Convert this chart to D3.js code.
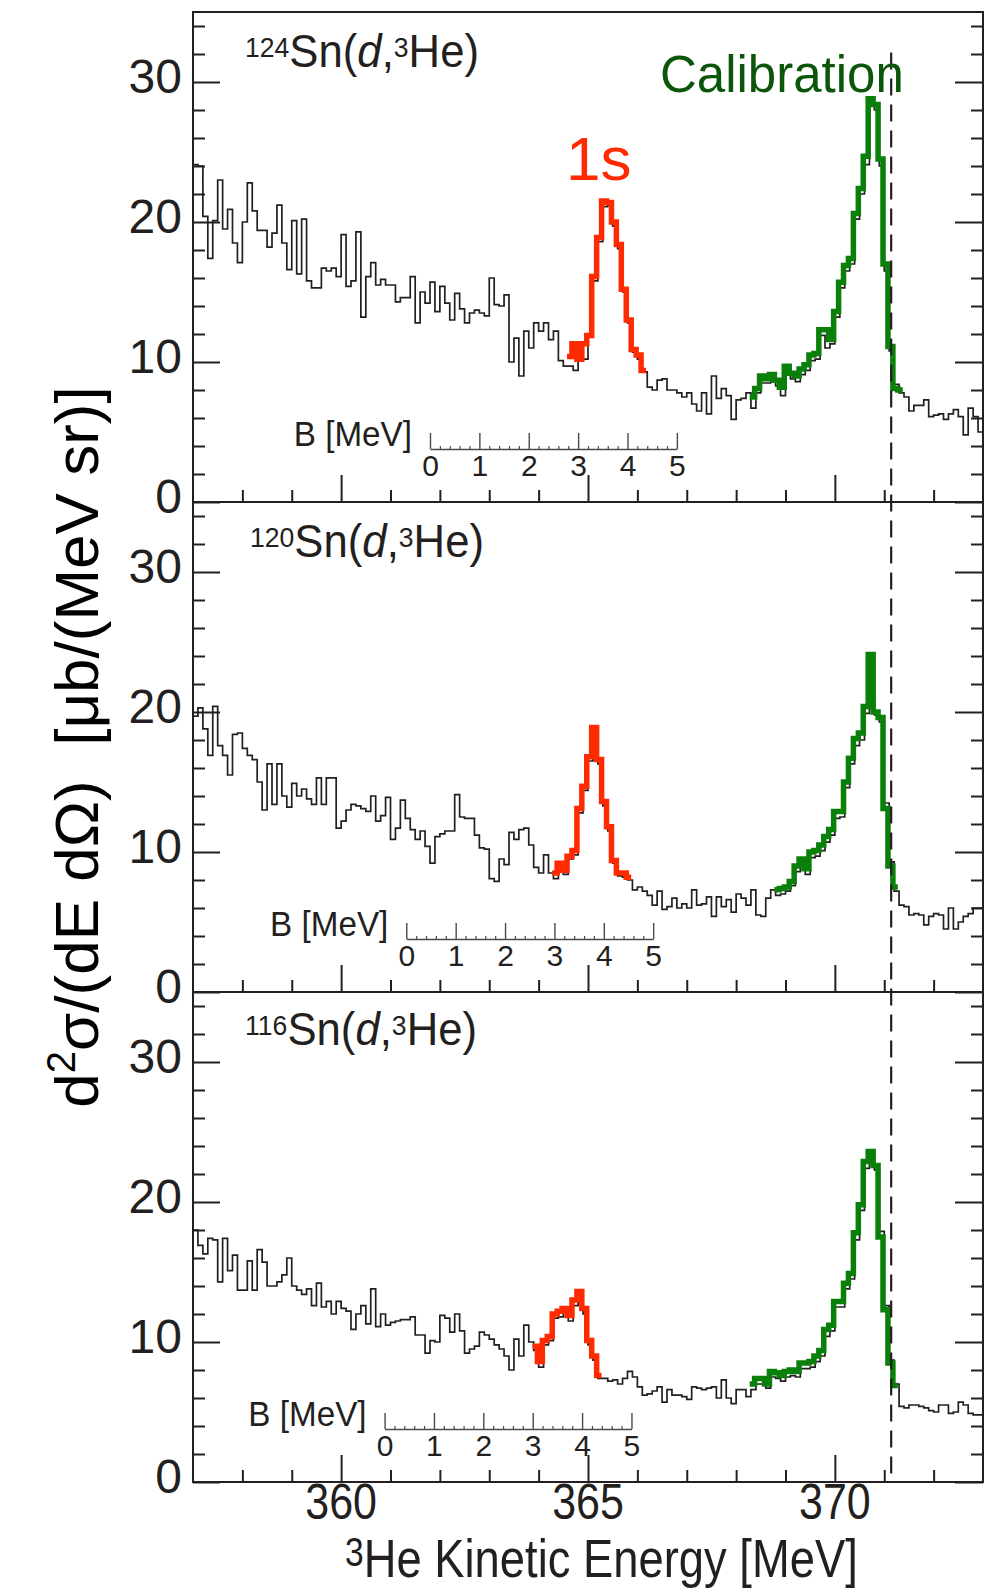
<!DOCTYPE html>
<html>
<head>
<meta charset="utf-8">
<script src="https://cdn.jsdelivr.net/npm/d3@7"></script>
<style>
  body { margin: 0; background: #fff; }
  svg { display: block; font-family: "Liberation Sans", Arial, sans-serif; }
</style>
</head>
<body>
<div id="chart"></div>
<script>
// --- Data (0.1 MeV bins starting at 357.0 MeV) ---
const binStart = 357.0;
const binWidth = 0.1;

const targets = ["124", "120", "116"];

const black124 = [
  24.1, 24.0, 20.4, 17.4, 20.1, 23.0, 19.5, 20.9, 18.5, 17.1,
  20.0, 22.8, 20.8, 19.4, 19.4, 18.2, 19.2, 21.2, 18.5, 16.6,
  20.1, 16.3, 20.2, 15.8, 15.3, 15.3, 16.7, 16.5, 16.7, 16.1,
  19.1, 15.4, 15.8, 19.3, 13.2, 16.1, 17.1, 15.5, 15.9, 15.5,
  15.5, 14.3, 14.6, 14.6, 16.1, 12.8, 15.0, 14.2, 15.7, 13.6,
  15.4, 14.2, 13.0, 14.9, 13.8, 12.8, 13.5, 13.7, 13.5, 13.3,
  16.0, 14.1, 14.0, 14.8, 10.0, 11.7, 9.0, 12.2, 11.0, 12.8,
  12.2, 12.8, 11.6, 12.2, 10.1, 9.7,
  9.7, 9.4, 11.0, 10.2, 11.9, 15.8, 18.6, 21.1, 21.2, 19.7, 18.1, 15.0, 12.8, 10.7, 10.2, 9.3,
  8.2, 8.0, 8.7, 8.8, 8.0, 8.0, 7.8, 7.5, 7.8, 7.0, 6.5, 7.8, 6.3, 9.0, 7.4, 8.1, 7.6, 5.9, 7.3, 7.4, 7.8,
  6.7, 7.8, 8.5, 8.5, 8.7, 8.3, 7.6, 9.3, 8.8, 8.6, 9.1, 9.4, 10.1, 10.2, 11.9, 11.0, 11.3, 13.2,
  15.3, 16.5, 17.0, 20.2, 22.0, 24.1, 28.3, 28.0, 24.0, 16.5, 10.8, 8.4, 7.8,
  7.5, 6.5, 6.9, 6.9, 7.3, 6.1, 6.2, 6.3, 5.9, 6.3, 6.6, 6.1, 4.8, 6.7, 6.1, 5.0
];
const red124Start = 76;
const red124 = [10.4, 11.3, 10.2, 11.3, 11.9, 16.1, 18.9, 21.5, 21.4, 20.0, 18.4, 15.2, 13.0, 10.9, 10.5, 9.4];
const green124Start = 113;
const green124 = [
  7.5, 8.1, 9.0, 8.8, 9.1, 8.7, 8.2, 9.7, 9.2, 9.0, 9.5, 9.8, 10.5, 10.6, 12.3, 12.3, 11.6,
  13.6, 15.7, 16.9, 17.4, 20.6, 22.4, 24.7, 28.8, 28.4, 24.5, 17.0, 11.1, 8.1, 8.0
];

const black120 = [
  19.7, 20.3, 18.8, 16.9, 20.4, 17.6, 16.9, 15.5, 18.4, 18.5,
  17.4, 16.9, 16.6, 15.0, 13.0, 16.3, 13.4, 16.3, 14.0, 13.2,
  14.9, 14.0, 14.5, 13.8, 13.4, 15.3, 13.4, 15.3, 15.3, 11.7,
  12.2, 13.0, 13.4, 13.3, 13.1, 12.9, 14.0, 12.2, 12.6, 13.9,
  10.9, 11.7, 13.7, 12.4, 11.6, 10.9, 11.5, 10.4, 9.2, 11.1,
  11.3, 11.5, 11.5, 14.1, 12.5, 12.4, 12.4, 11.2, 10.3, 10.2,
  8.1, 7.9, 9.5, 9.1, 11.4, 10.9, 11.6, 11.7, 10.5, 8.9,
  8.5, 9.8, 8.5,
  8.1, 9.0, 8.4, 9.5, 9.8, 12.8, 14.4, 16.5, 18.4, 16.3, 13.3, 11.5, 9.2, 8.3, 8.2, 8.0,
  7.3, 7.5, 7.2, 6.9, 6.2, 7.2, 5.9, 6.1, 6.7, 6.0, 6.3, 6.0, 7.3, 6.2, 6.3, 6.8, 5.4, 6.8,
  6.1, 6.6, 5.7, 7.0, 6.7, 6.2, 7.3, 5.5, 5.4, 6.7, 7.3,
  6.9, 7.0, 7.2, 7.6, 8.6, 9.1, 8.4, 9.6, 9.7, 10.1, 10.7, 11.2, 12.4, 12.5, 14.6, 16.3,
  17.6, 18.0, 19.9, 23.5, 19.8, 19.3, 13.5, 9.3, 7.2,
  6.2, 6.1, 5.5, 5.6, 5.5, 4.8, 5.4, 5.6, 5.5, 4.5, 6.0, 4.5, 5.0, 5.4, 5.6, 6.0, 6.0
];
const red120Start = 73;
const red120 = [8.5, 9.2, 8.7, 9.7, 10.1, 13.1, 14.7, 16.8, 18.9, 16.6, 13.6, 11.8, 9.4, 8.5, 8.5, 8.2];
const green120Start = 118;
const green120 = [
  7.3, 7.4, 7.5, 7.9, 9.0, 9.5, 8.8, 10.0, 10.1, 10.5, 11.1, 11.6, 12.9, 12.9,
  15.0, 16.7, 18.1, 18.5, 20.4, 24.1, 20.0, 19.6, 13.1, 9.0, 7.5
];

const black116 = [
  18.0, 16.9, 16.3, 17.4, 17.3, 14.3, 17.4, 15.1, 16.2, 13.7,
  13.7, 15.8, 13.7, 16.6, 15.7, 14.0, 14.0, 14.3, 14.8, 16.0,
  14.0, 13.7, 13.4, 13.8, 12.6, 14.2, 12.5, 12.9, 12.0, 12.9,
  12.4, 12.2, 10.9, 12.0, 12.6, 11.3, 13.8, 11.1, 12.0, 11.2,
  11.4, 11.5, 11.6, 11.6, 11.8, 10.5, 10.5, 9.2, 10.1, 10.0,
  11.9, 11.7, 10.7, 12.0, 10.8, 9.2, 9.5, 9.7, 10.7, 10.5,
  10.2, 9.8, 9.5, 9.0, 8.0, 10.2, 9.0, 11.2, 10.0,
  9.4, 8.2, 9.8, 10.1, 11.7, 11.8, 12.1, 11.5, 12.6, 13.3, 12.0, 9.8, 8.7, 7.4,
  7.4, 7.2, 7.3, 7.0, 7.4, 7.9, 7.5, 6.8, 6.2, 6.3, 6.5, 6.8, 5.7, 6.6, 6.2,
  6.2, 6.1, 5.9, 6.8, 6.7, 6.6, 6.7, 6.8, 6.0, 7.3, 6.0, 5.6, 6.6, 6.6, 6.1,
  6.6, 7.0, 7.0, 6.7, 7.5, 7.4, 7.2, 7.5, 7.6, 7.5, 8.1, 8.1, 8.2, 8.6, 9.0,
  10.4, 10.8, 12.5, 12.5, 13.8, 14.5, 17.3, 19.4, 22.4, 23.1, 22.3, 17.9, 12.6, 8.7, 7.0,
  5.4, 5.3, 5.5, 5.5, 5.4, 5.3, 5.1, 5.0, 5.5, 5.5, 4.9, 5.0, 5.7, 5.5, 4.9, 4.8, 4.8
];
const red116Start = 69;
const red116 = [9.7, 8.6, 10.1, 10.4, 12.0, 12.2, 12.4, 11.9, 13.0, 13.6, 12.4, 10.1, 9.0, 7.6];
const green116Start = 113;
const green116 = [
  7.0, 7.4, 7.4, 7.0, 7.9, 7.8, 7.6, 7.9, 8.0, 7.9, 8.5, 8.5, 8.6, 9.0, 9.4,
  10.9, 11.2, 12.9, 12.9, 14.2, 14.9, 17.8, 19.8, 22.9, 23.6, 22.6, 17.5, 12.3, 8.5, 6.9
];

// B = 0 of each inset binding-energy axis, in 3He kinetic energy [MeV]
const bZero = [361.80, 361.32, 360.88];
const calibEnergy = 371.14;      // dashed reference line
const calibLineTop = 32.1;       // top of dashed line, in top-panel units
const colorShift = -0.025;       // colored histograms sit slightly left of the black one

const yMajor = [0, 10, 20, 30];
const yMinor = d3.range(2, 35, 2).filter(v => v % 10 !== 0);
const xMajor = [360, 365, 370];
const xMinor = d3.range(358, 373).filter(v => v % 5 !== 0);
const bMajor = [0, 1, 2, 3, 4, 5];

const panels = [
  { target: targets[0], black: black124, red: red124, redStart: red124Start, green: green124, greenStart: green124Start },
  { target: targets[1], black: black120, red: red120, redStart: red120Start, green: green120, greenStart: green120Start },
  { target: targets[2], black: black116, red: red116, redStart: red116Start, green: green116, greenStart: green116Start }
];

// --- Layout ---
const width = 998, height = 1592;
const plotLeft = 193, plotRight = 983, plotTop = 12, panelH = 490;
const ink = "#231f20";
const redColor = "#ff2a00";
const greenColor = "#0a800a";
const greenText = "#0b560b";

const svg = d3.select("#chart").append("svg")
  .attr("width", width)
  .attr("height", height);

const x = d3.scaleLinear().domain([357, 373]).range([plotLeft, plotRight]);

function stepPoints(values, start, shift) {
  const pts = values.map((v, k) => [binStart + (start + k) * binWidth + shift, v]);
  pts.push([binStart + (start + values.length) * binWidth + shift, values[values.length - 1]]);
  return pts;
}

function styleAxis(sel, w) {
  sel.attr("color", ink);
  sel.select(".domain").remove();
  sel.selectAll(".tick line").attr("stroke-width", w);
}

let topY = null;

panels.forEach((p, i) => {
  const top = plotTop + i * panelH;
  const y = d3.scaleLinear().domain([0, 35]).range([top + panelH, top]);
  if (i === 0) topY = y;
  const g = svg.append("g");

  const line = d3.line().x(d => x(d[0])).y(d => y(d[1])).curve(d3.curveStepAfter);

  // --- Y ticks (left with labels, right mirrored) ---
  g.append("g").attr("transform", `translate(${plotLeft},0)`)
    .call(d3.axisLeft(y).tickValues(yMajor).tickSize(-27).tickPadding(11).tickFormat(d3.format("d")))
    .call(a => styleAxis(a, 2))
    .call(a => a.selectAll("text")
      .attr("font-size", 48)
      .attr("font-family", "Liberation Sans, Arial, sans-serif")
      .attr("dy", "0.22em")
      .attr("fill", ink));
  g.append("g").attr("transform", `translate(${plotLeft},0)`)
    .call(d3.axisLeft(y).tickValues(yMinor).tickSize(-12).tickFormat(""))
    .call(a => styleAxis(a, 2));
  g.append("g").attr("transform", `translate(${plotRight},0)`)
    .call(d3.axisRight(y).tickValues(yMajor).tickSize(-28).tickFormat(""))
    .call(a => styleAxis(a, 2));
  g.append("g").attr("transform", `translate(${plotRight},0)`)
    .call(d3.axisRight(y).tickValues(yMinor).tickSize(-12).tickFormat(""))
    .call(a => styleAxis(a, 2));

  // --- X ticks along the bottom of every panel ---
  g.append("g").attr("transform", `translate(0,${top + panelH})`)
    .call(d3.axisBottom(x).tickValues(xMajor).tickSize(-27).tickFormat(""))
    .call(a => styleAxis(a, 2));
  g.append("g").attr("transform", `translate(0,${top + panelH})`)
    .call(d3.axisBottom(x).tickValues(xMinor).tickSize(-12).tickFormat(""))
    .call(a => styleAxis(a, 2));

  // --- Histograms ---
  g.append("path")
    .attr("d", line(stepPoints(p.black, 0, 0)))
    .attr("fill", "none")
    .attr("stroke", ink)
    .attr("stroke-width", 1.7);

  g.append("path")
    .attr("d", line(stepPoints(p.red, p.redStart, colorShift)))
    .attr("fill", "none")
    .attr("stroke", redColor)
    .attr("stroke-width", 5.5)
    .attr("stroke-linejoin", "miter");

  g.append("path")
    .attr("d", line(stepPoints(p.green, p.greenStart, colorShift)))
    .attr("fill", "none")
    .attr("stroke", greenColor)
    .attr("stroke-width", 5.5)
    .attr("stroke-linejoin", "miter");

  // --- Frame ---
  g.append("rect")
    .attr("x", plotLeft).attr("y", top)
    .attr("width", plotRight - plotLeft).attr("height", panelH)
    .attr("fill", "none")
    .attr("stroke", ink)
    .attr("stroke-width", 2);

  // --- Reaction title ---
  const title = g.append("text")
    .attr("transform", `translate(${i === 1 ? 250 : 245},${top + (i === 2 ? 53 : 55)}) scale(0.95,1)`)
    .attr("fill", ink)
    .attr("font-size", 46);
  title.append("tspan").attr("font-size", 28).attr("dy", -10).text(p.target);
  title.append("tspan").attr("dy", 10).text("Sn(");
  title.append("tspan").attr("font-style", "italic").text("d");
  title.append("tspan").text(",");
  title.append("tspan").attr("font-size", 28).attr("dy", -10).text("3");
  title.append("tspan").attr("dy", 10).text("He)");

  // --- Binding energy inset axis ---
  const insetY = top + 437;
  const bx = d3.scaleLinear().domain([0, 5]).range([x(bZero[i]), x(bZero[i] + 5)]);
  const inset = g.append("g").attr("transform", `translate(0,${insetY})`);
  inset.append("g")
    .call(d3.axisBottom(bx).tickValues(bMajor).tickSize(-16).tickSizeOuter(0).tickPadding(6).tickFormat(d3.format("d")))
    .call(a => {
      a.attr("color", "#4a4a4a");
      a.select(".domain").attr("stroke-width", 1.4);
      a.selectAll(".tick line").attr("stroke-width", 1.4);
      a.selectAll("text")
        .attr("font-size", 30)
        .attr("font-family", "Liberation Sans, Arial, sans-serif")
        .attr("fill", ink);
    });
  inset.append("g")
    .call(d3.axisBottom(bx).tickValues(d3.range(1, 25).map(k => k * 0.2).filter(v => Math.abs(v - Math.round(v)) > 0.01))
      .tickSize(-3).tickSizeOuter(0).tickFormat(""))
    .call(a => {
      a.attr("color", "#4a4a4a");
      a.select(".domain").remove();
      a.selectAll(".tick line").attr("stroke-width", 1.2);
    });
  inset.append("text")
    .attr("transform", `translate(${bx(0) - 18},-3) scale(0.95,1)`)
    .attr("text-anchor", "end")
    .attr("font-size", 35)
    .attr("fill", ink)
    .text("B [MeV]");
});

// --- Dashed calibration reference line through all panels ---
svg.append("line")
  .attr("x1", x(calibEnergy)).attr("x2", x(calibEnergy))
  .attr("y1", topY(calibLineTop))
  .attr("y2", plotTop + 3 * panelH)
  .attr("stroke", ink)
  .attr("stroke-width", 2.2)
  .attr("stroke-dasharray", "17,9");

// --- Annotations ---
svg.append("text")
  .attr("x", 660).attr("y", 92)
  .attr("font-size", 51)
  .attr("fill", greenText)
  .text("Calibration");

svg.append("text")
  .attr("x", 566).attr("y", 180)
  .attr("font-size", 62)
  .attr("fill", redColor)
  .text("1s");

// --- Bottom axis labels ---
const bottom = plotTop + 3 * panelH;
svg.append("g").selectAll("text")
  .data(xMajor)
  .join("text")
  .attr("transform", d => `translate(${x(d)},${bottom + 37}) scale(0.86,1)`)
  .attr("text-anchor", "middle")
  .attr("font-size", 50)
  .attr("fill", ink)
  .text(d => d);

const xTitle = svg.append("text")
  .attr("transform", `translate(345,${bottom + 95}) scale(0.84,1)`)
  .attr("font-size", 54)
  .attr("fill", ink);
xTitle.append("tspan").attr("font-size", 40).attr("dy", -11).text("3");
xTitle.append("tspan").attr("dy", 11).text("He Kinetic Energy [MeV]");

// --- Y axis title ---
const yTitle = svg.append("text")
  .attr("transform", `translate(98,747) rotate(-90)`)
  .attr("text-anchor", "middle")
  .attr("font-size", 62)
  .attr("fill", "#000")
  .style("white-space", "pre");
yTitle.append("tspan").text("d");
yTitle.append("tspan").attr("font-size", 40).attr("dy", -23).text("2");
yTitle.append("tspan").attr("dy", 23).text("σ/(dE dΩ)  [μb/(MeV sr)]");
</script>
</body>
</html>
